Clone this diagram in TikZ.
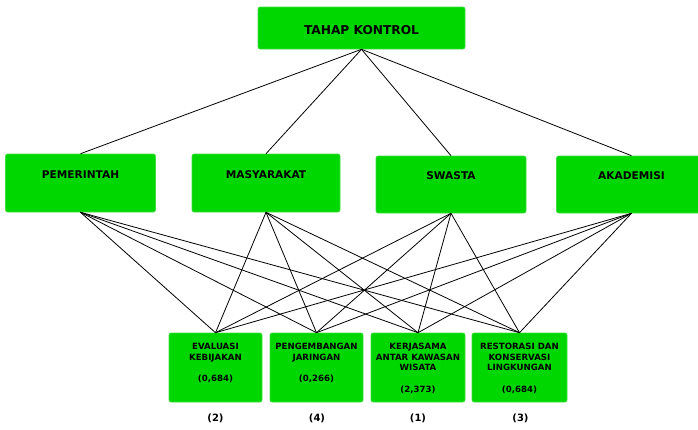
\documentclass[tikz,border=0pt]{standalone}
\usepackage{fontspec}
\setmainfont{DejaVu Sans}
\definecolor{boxgreen}{RGB}{0,214,0}
\begin{document}
\begin{tikzpicture}[x=1pt,y=-1pt,
  gbox/.style={draw=boxgreen!75!white, line width=0.6pt, fill=boxgreen, rounded corners=2pt, inner sep=0pt},
  toptext/.style={font=\bfseries\fontsize{12.2}{14}\selectfont, inner sep=0pt},
  midtext/.style={font=\bfseries\fontsize{10.6}{12}\selectfont, inner sep=0pt},
  bottext/.style={font=\bfseries\fontsize{8.6}{10.5}\selectfont, inner sep=0pt, align=center, anchor=north},
  ranktext/.style={font=\bfseries\fontsize{10}{12}\selectfont, inner sep=0pt},
  link/.style={draw=black, line width=0.8pt}
]
\useasboundingbox (0,0) rectangle (698,429);
\begin{scope}
\clip (0,0) rectangle (698,429);
% top
\node[gbox, minimum width=207pt, minimum height=42pt] (top) at (361.5,28) {};
\node[toptext] (toplbl) at (361.5,30) {TAHAP KONTROL};
% middle
\node[gbox, minimum width=150pt, minimum height=58pt] (pem) at (80.5,183) {};
\node[gbox, minimum width=148pt, minimum height=58pt] (mas) at (266,183) {};
\node[gbox, minimum width=150pt, minimum height=57pt] (swa) at (451,184.5) {};
\node[gbox, minimum width=150pt, minimum height=57pt] (aka) at (631.5,184.5) {};
\node[midtext] (pemlbl) at (80.5,175) {PEMERINTAH};
\node[midtext] (maslbl) at (266,175) {MASYARAKAT};
\node[midtext] (swalbl) at (451,176) {SWASTA};
\node[midtext] (akalbl) at (631.5,176) {AKADEMISI};
% bottom
\node[gbox, minimum width=93pt, minimum height=69pt] (b1) at (215.5,367.5) {};
\node[gbox, minimum width=93pt, minimum height=69pt] (b2) at (316.5,367.5) {};
\node[gbox, minimum width=94pt, minimum height=69pt] (b3) at (418,367.5) {};
\node[gbox, minimum width=95pt, minimum height=69pt] (b4) at (519.5,367.5) {};
\node[bottext] (b1lbl) at (215.5,343) {EVALUASI\\KEBIJAKAN\\[11pt](0,684)};
\node[bottext] (b2lbl) at (316.5,343) {PENGEMBANGAN\\JARINGAN\\[11pt](0,266)};
\node[bottext] (b3lbl) at (418,343) {KERJASAMA\\ANTAR KAWASAN\\WISATA\\[11pt](2,373)};
\node[bottext] (b4lbl) at (519.5,343) {RESTORASI DAN\\KONSERVASI\\LINGKUNGAN\\[11pt](0,684)};
% ranks
\node[ranktext] (r1) at (215.5,418) {(2)};
\node[ranktext] (r2) at (317,418) {(4)};
\node[ranktext] (r3) at (418,418) {(1)};
\node[ranktext] (r4) at (520.5,418) {(3)};
% links
\foreach \m in {pem,mas,swa,aka}{
  \draw[link] (top.south) -- (\m.north);
  \foreach \b in {b1,b2,b3,b4}{
    \draw[link] (\m.south) -- (\b.north);
  }
}
\end{scope}
\end{tikzpicture}
\end{document}
